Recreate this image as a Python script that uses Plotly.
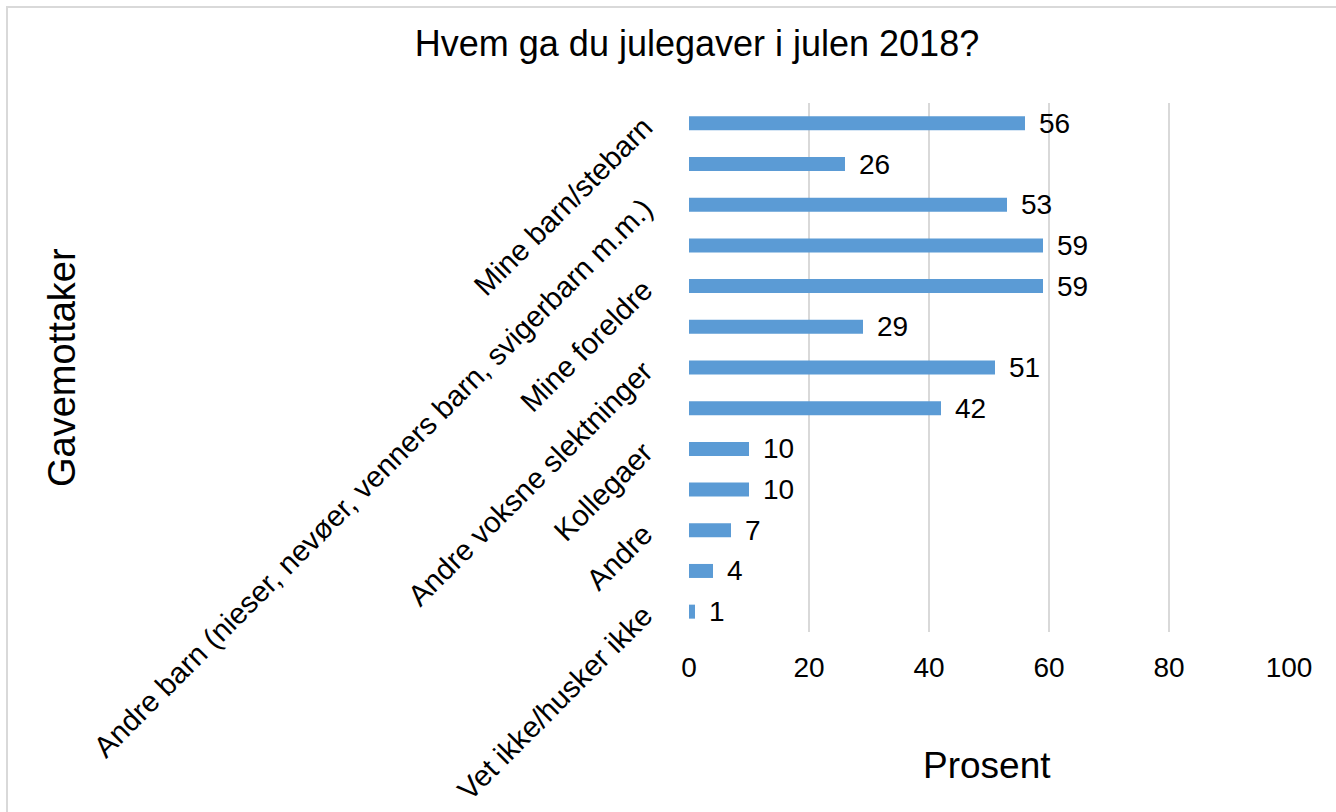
import plotly.graph_objects as go

categories = [
    "Mine barn/stebarn",
    "Mine barnebarn",
    "Andre barn (nieser, nevøer, venners barn, svigerbarn m.m.)",
    "Min partner",
    "Mine foreldre",
    "Mine svigerforeldre",
    "Andre voksne slektninger",
    "Venner",
    "Kollegaer",
    "Naboer",
    "Andre",
    "Ingen",
    "Vet ikke/husker ikke",
]
values = [56, 26, 53, 59, 59, 29, 51, 42, 10, 10, 7, 4, 1]
shown_labels = categories[::2]
x_ticks = [0, 20, 40, 60, 80, 100]

FONT = "Liberation Sans, Arial, sans-serif"
L, R, T, B = 689, 47, 103, 180
W, H = 1336, 812
pw, ph = W - L - R, H - T - B

def px_x(px):
    return (px - L) / pw

def px_y(py):
    return (H - B - py) / ph

fig = go.Figure(go.Bar(
    x=values, y=categories, orientation="h",
    marker=dict(color="#5b9bd5", line=dict(width=0)),
    hoverinfo="x+y",
))

annotations = [
    dict(x=v, y=c, xref="x", yref="y", text=str(v), showarrow=False,
         xanchor="left", yanchor="middle", xshift=12,
         font=dict(family=FONT, size=28, color="#000000"))
    for c, v in zip(categories, values)
]
annotations.append(dict(text="Gavemottaker", xref="paper", yref="paper",
                        x=px_x(62), y=px_y(368), showarrow=False, textangle=-90,
                        xanchor="center", yanchor="middle",
                        font=dict(family=FONT, size=38, color="#000000")))
annotations.append(dict(text="Prosent", xref="paper", yref="paper",
                        x=px_x(987), y=px_y(765), showarrow=False,
                        xanchor="center", yanchor="middle",
                        font=dict(family=FONT, size=37, color="#000000")))

fig.update_layout(
    width=W, height=H,
    margin=dict(l=L, r=R, t=T, b=B, pad=0, autoexpand=False),
    paper_bgcolor="white", plot_bgcolor="white",
    bargap=0.656,
    showlegend=False,
    title=dict(text="Hvem ga du julegaver i julen 2018?", x=697 / W, y=1 - 43 / H,
               xanchor="center", yanchor="middle",
               font=dict(family=FONT, size=36, color="#000000")),
    annotations=annotations,
    shapes=[dict(type="rect", xref="paper", yref="paper",
                 x0=px_x(7), x1=px_x(1345), y0=px_y(830), y1=px_y(7),
                 line=dict(color="#d9d9d9", width=2), layer="below")],
    xaxis=dict(range=[0, 100], tickvals=x_ticks, showgrid=True,
               gridcolor="#d9d9d9", gridwidth=2, zeroline=False,
               showline=False, ticks="", ticklabelstandoff=16, automargin=False,
               tickfont=dict(family=FONT, size=28, color="#000000")),
    yaxis=dict(categoryorder="array", categoryarray=categories,
               autorange="reversed", tickvals=shown_labels, ticktext=shown_labels,
               tickangle=-45, showgrid=False, zeroline=False, showline=False,
               ticks="", ticklabelstandoff=44, automargin=False,
               tickfont=dict(family=FONT, size=29.5, color="#000000")),
)

fig.write_html("out.html")
